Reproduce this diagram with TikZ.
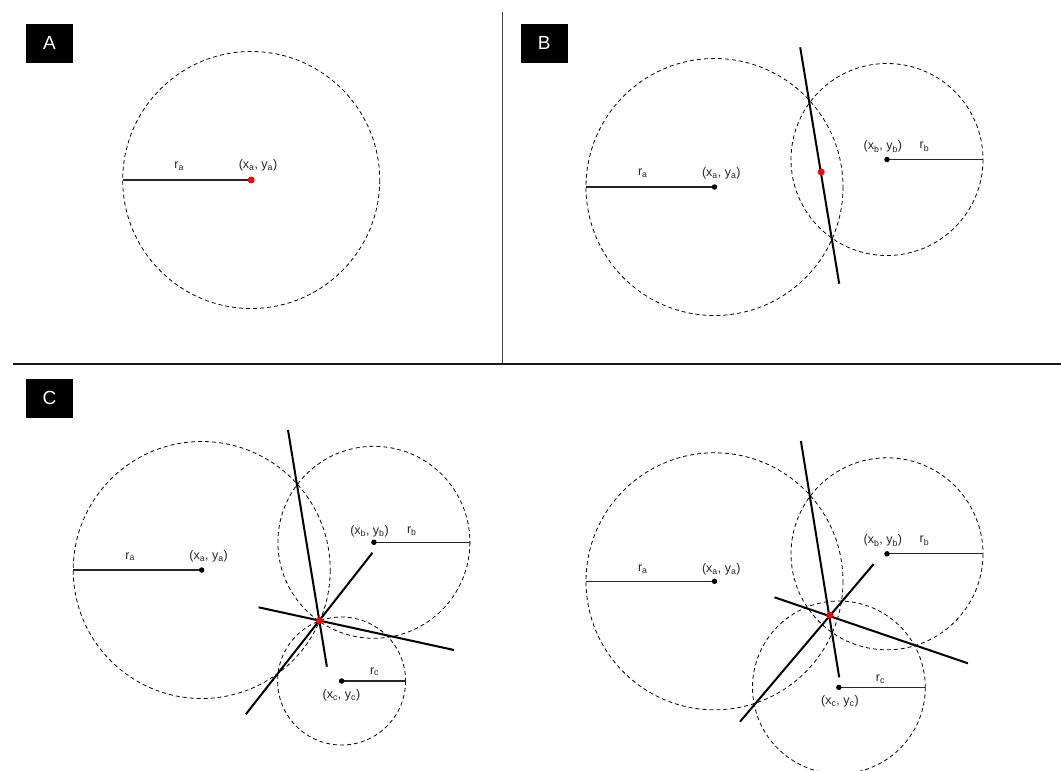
\documentclass[tikz,border=0pt]{standalone}
\usepackage{fontspec}
\setmainfont{Liberation Sans}
\usetikzlibrary{positioning}
\tikzset{
  ring/.style={draw=black, dash pattern=on 4pt off 3pt, line width=0.8pt},
  rline/.style={draw=black!85, line width=1.1pt},
  chord/.style={draw=black, line width=2pt},
  cdot/.style={circle, fill=black, inner sep=0pt, minimum size=5.5pt},
  hitdot/.style={circle, fill=red, inner sep=0pt, minimum size=7pt},
  tag/.style={fill=black, text=white, minimum width=47pt, minimum height=39pt,
    inner sep=0pt, font=\fontsize{19}{22}\selectfont},
  lbl/.style={font=\fontsize{12.5}{15}\selectfont, text=black!85, inner sep=1pt},
  divider/.style={draw=black!75, line width=1.3pt}
}
\newcommand{\ctrlab}[1]{(x\textsubscript{#1}, y\textsubscript{#1})}
\newcommand{\rlab}[1]{r\textsubscript{#1}}

\begin{document}
\begin{tikzpicture}[x=1pt, y=-1pt]
  \clip (0,0) rectangle (1061,771);
  \fill[white] (0,0) rectangle (1061,771);

  % frame
  \coordinate (vtop) at (502.7,12.3);
  \coordinate (vbot) at (502.7,364);
  \coordinate (hleft) at (12.8,364);
  \coordinate (hright) at (1061,364);
  \draw[divider] (vtop) -- (vbot);
  \draw[divider, draw=black!90] (hleft) -- (hright);
  \node[tag] (tagA) at (49.5,43.3) {A};
  \node[tag] (tagB) at (544.3,43.3) {B};
  \node[tag] (tagC) at (49.5,398.3) {C};

  % panel A
  \coordinate (Aca) at (251.2,180);
  \coordinate (Aea) at (122.7,180);
  \draw[ring] (Aca) circle (128.5);
  \draw[rline] (Aea) -- (Aca);
  \node[hitdot] (Ahit) at (Aca) {};
  \node[lbl] (Ara) at (179.2,166) {\rlab{a}};
  \node[lbl] (Axa) at (258,165) {\ctrlab{a}};

  % panel B
  \coordinate (Bca) at (714.5,187);
  \coordinate (Bea) at (586,187);
  \coordinate (Bcb) at (887,159.5);
  \coordinate (Beb) at (983,159.5);
  \coordinate (Bp1) at (800.2,47.3);
  \coordinate (Bp2) at (839.2,283.7);
  \draw[ring] (Bca) circle (128.5);
  \draw[ring] (Bcb) circle (96);
  \draw[rline] (Bea) -- (Bca);
  \draw[rline] (Bcb) -- (Beb);
  \draw[chord] (Bp1) -- (Bp2);
  \node[cdot] (Bdota) at (Bca) {};
  \node[cdot] (Bdotb) at (Bcb) {};
  \node[hitdot] (Bhit) at (821.2,172) {};
  \node[lbl] (Bra) at (642.8,173) {\rlab{a}};
  \node[lbl] (Bxa) at (721.3,173) {\ctrlab{a}};
  \node[lbl] (Bxb) at (882.9,146.7) {\ctrlab{b}};
  \node[lbl] (Brb) at (924.5,146.7) {\rlab{b}};

  % panel C, left
  \coordinate (Cca) at (201.7,570);
  \coordinate (Cea) at (73.2,570);
  \coordinate (Ccb) at (373.9,542.3);
  \coordinate (Ceb) at (469.9,542.3);
  \coordinate (Ccc) at (341.6,681);
  \coordinate (Cec) at (405.6,681);
  \coordinate (Cp1) at (288,430);
  \coordinate (Cp2) at (326.9,666.7);
  \coordinate (Cq1) at (372.5,552.7);
  \coordinate (Cq2) at (245.8,714.3);
  \coordinate (Cs1) at (258.6,607.3);
  \coordinate (Cs2) at (454,650);
  \draw[ring] (Cca) circle (128.5);
  \draw[ring] (Ccb) circle (96);
  \draw[ring] (Ccc) circle (64);
  \draw[rline] (Cea) -- (Cca);
  \draw[rline] (Ccb) -- (Ceb);
  \draw[rline] (Ccc) -- (Cec);
  \draw[chord] (Cp1) -- (Cp2);
  \draw[chord] (Cq1) -- (Cq2);
  \draw[chord] (Cs1) -- (Cs2);
  \node[cdot] (Cdota) at (Cca) {};
  \node[cdot] (Cdotb) at (Ccb) {};
  \node[cdot] (Cdotc) at (Ccc) {};
  \node[hitdot] (Chit) at (319.5,620.7) {};
  \node[lbl] (Cra) at (130.2,556.7) {\rlab{a}};
  \node[lbl] (Cxa) at (208.6,556.7) {\ctrlab{a}};
  \node[lbl] (Cxb) at (369.5,531) {\ctrlab{b}};
  \node[lbl] (Crb) at (411.8,531) {\rlab{b}};
  \node[lbl] (Crc) at (374.6,671.7) {\rlab{c}};
  \node[lbl] (Cxc) at (341.4,695) {\ctrlab{c}};

  % panel C, right
  \coordinate (Dca) at (714.5,581.3);
  \coordinate (Dea) at (586,581.3);
  \coordinate (Dcb) at (887,553.8);
  \coordinate (Deb) at (983,553.8);
  \coordinate (Dcc) at (838.9,687.4);
  \coordinate (Dec) at (925.3,687.4);
  \coordinate (Dp1) at (800.9,441);
  \coordinate (Dp2) at (839.2,677.3);
  \coordinate (Dq1) at (873.7,564);
  \coordinate (Dq2) at (740,721.7);
  \coordinate (Ds1) at (774.5,597.3);
  \coordinate (Ds2) at (967.9,663.3);
  \draw[ring] (Dca) circle (128.5);
  \draw[ring] (Dcb) circle (96);
  \draw[ring] (Dcc) circle (86.4);
  \draw[rline] (Dea) -- (Dca);
  \draw[rline] (Dcb) -- (Deb);
  \draw[rline] (Dcc) -- (Dec);
  \draw[chord] (Dp1) -- (Dp2);
  \draw[chord] (Dq1) -- (Dq2);
  \draw[chord] (Ds1) -- (Ds2);
  \node[cdot] (Ddota) at (Dca) {};
  \node[cdot] (Ddotb) at (Dcb) {};
  \node[cdot] (Ddotc) at (Dcc) {};
  \node[hitdot] (Dhit) at (829.7,615.3) {};
  \node[lbl] (Dra) at (642.8,569) {\rlab{a}};
  \node[lbl] (Dxa) at (721.3,569) {\ctrlab{a}};
  \node[lbl] (Dxb) at (882.9,540.7) {\ctrlab{b}};
  \node[lbl] (Drb) at (924.5,540.7) {\rlab{b}};
  \node[lbl] (Drc) at (880.5,679.3) {\rlab{c}};
  \node[lbl] (Dxc) at (839.9,701.7) {\ctrlab{c}};
\end{tikzpicture}
\end{document}
